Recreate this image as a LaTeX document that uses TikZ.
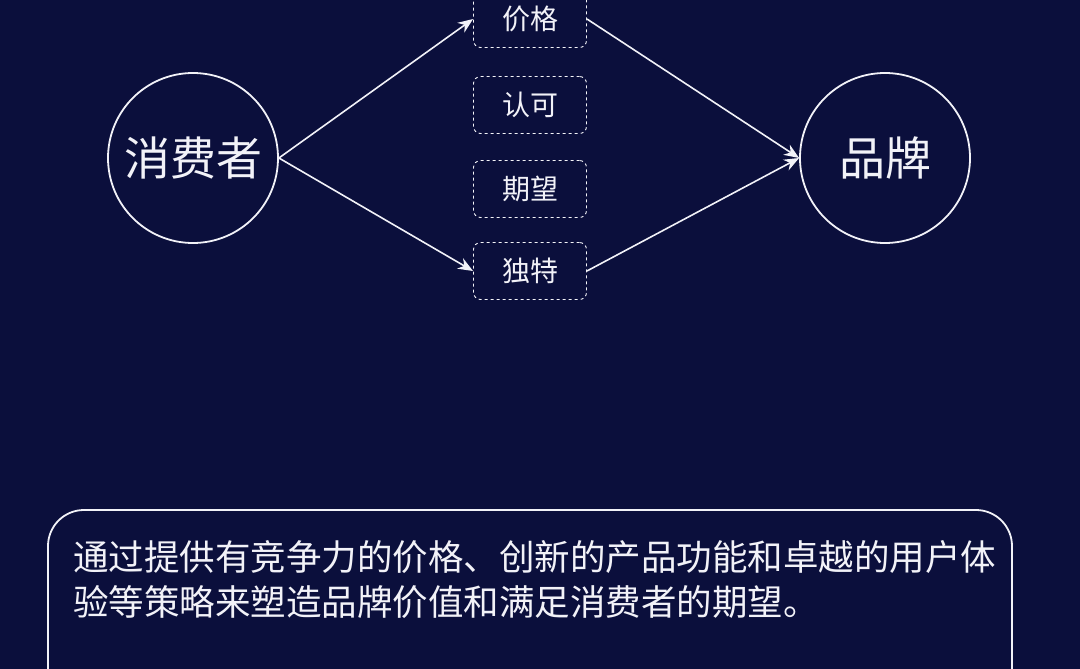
\documentclass[tikz,border=0pt]{standalone}
\usepackage{fontspec}
\newfontfamily\cjk{Noto Sans CJK SC}
\usetikzlibrary{arrows.meta}
\definecolor{bg}{HTML}{0B0F3C}
\definecolor{fg}{HTML}{F2F2F8}
\begin{document}
\begin{tikzpicture}[x=1pt,y=-1pt,
  circ/.style={circle,draw=fg,line width=1.8pt,minimum size=170pt,inner sep=0pt,text=fg,font=\cjk\fontsize{46}{50}\selectfont},
  tag/.style={draw=fg!85,dashed,line width=0.9pt,rounded corners=7pt,minimum width=113pt,minimum height=57pt,inner sep=0pt,text=fg,font=\cjk\fontsize{28}{30}\selectfont},
  conn/.style={draw=fg,line width=1.6pt,-{Stealth[length=15pt,width=12pt]}},
  line/.style={draw=fg,line width=1.6pt}]
\fill[bg] (0,0) rectangle (1080,669);
\useasboundingbox (0,0) rectangle (1080,669);
\node[circ] (c) at (193,158) {消费者};
\node[circ] (b) at (885,158) {品牌};
\node[tag] (t1) at (530,19) {价格};
\node[tag] (t2) at (530,105) {认可};
\node[tag] (t3) at (530,189) {期望};
\node[tag] (t4) at (530,271) {独特};
\draw[conn] (c.east) -- (t1.west);
\draw[conn] (c.east) -- (t4.west);
\draw[conn] (t1.east) -- (b.west);
\draw[conn] (t4.east) -- (b.west);
\draw[draw=fg,line width=1.8pt,rounded corners=36pt] (48,700) -- (48,510) -- (1012,510) -- (1012,700);
\node[anchor=west,text=fg,font=\cjk\fontsize{35.5}{45}\selectfont,align=left,inner sep=0pt] (txt) at (73,580)
 {通过提供有竞争力的价格、创新的产品功能和卓越的用户体\\验等策略来塑造品牌价值和满足消费者的期望。};
\end{tikzpicture}
\end{document}
